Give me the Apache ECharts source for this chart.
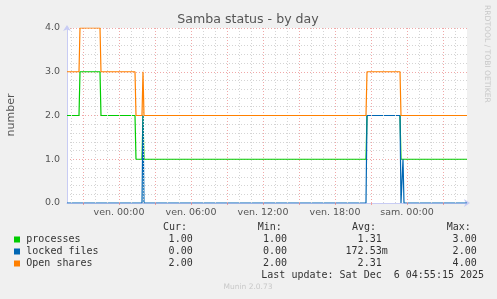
<!DOCTYPE html>
<html><head><meta charset="utf-8">
<script src="https://cdn.jsdelivr.net/npm/echarts@6/dist/echarts.min.js"></script>
<style>html,body{margin:0;padding:0;background:#f0f0f0}#c{width:497px;height:299px}</style>
</head><body><div id="c"></div>
<script>
// time in hours relative to Fri 00:00 (5-minute samples)
const xMin = -4.333, xMax = 29.0;
const tickHours = [0, 6, 12, 18, 24];
const tickLabels = ['ven. 00:00', 'ven. 06:00', 'ven. 12:00', 'ven. 18:00', 'sam. 00:00'];
const majorGridHours = [-3, 0, 3, 6, 9, 12, 15, 18, 21, 24, 27];
const minorGridHours = [-4, -2, -1, 1, 2, 4, 5, 7, 8, 10, 11, 13, 14, 16, 17, 19, 20, 22, 23, 25, 26, 28];

const processesData = [[-4.333,2],[-3.333,2],[-3.25,3],[-1.583,3],[-1.5,2],[1.333,2],[1.417,1],[1.917,1],[2.0,2],[2.083,1],[20.583,1],[20.667,2],[23.417,2],[23.5,1],[29.0,1]];
const lockedData = [[-4.333,0],[1.917,0],[2.0,2],[2.083,0],[20.583,0],[20.667,2],[23.417,2],[23.5,0],[23.583,0],[23.667,1],[23.75,0],[29.0,0]];
const sharesData = [[-4.333,3],[-3.333,3],[-3.25,4],[-1.583,4],[-1.5,3],[1.333,3],[1.417,2],[1.917,2],[2.0,3],[2.083,2],[20.583,2],[20.667,3],[23.417,3],[23.5,2],[29.0,2]];

const seriesNames = ['processes', 'locked files', 'Open shares'];
const curVals = ['1.00', '0.00', '2.00'];
const minVals = ['1.00', '0.00', '2.00'];
const avgVals = ['1.31', '172.53m', '2.31'];
const maxVals = ['3.00', '2.00', '4.00'];
const headers = ['Cur:', 'Min:', 'Avg:', 'Max:'];
const lastUpdate = 'Last update: Sat Dec  6 04:55:15 2025';
const titleText = 'Samba status - by day';
const yName = 'number';
const sideText = 'RRDTOOL / TOBI OETIKER';
const footerText = 'Munin 2.0.73';

const colors = ['#00cc00', '#0066b3', '#ff8000'];
const mono = 'DejaVu Sans Mono';
const sans = 'DejaVu Sans';

const chart = echarts.init(document.getElementById('c'), null, {renderer: 'canvas'});

const graphic = [];
graphic.push({type:'text', x:248, y:20, style:{text:titleText, font:'12.6px "'+sans+'"', fill:'#555', align:'center', verticalAlign:'middle'}});
graphic.push({type:'text', x:11, y:115, rotation:Math.PI/2, style:{text:yName, font:'11px "'+sans+'"', fill:'#555', align:'center', verticalAlign:'middle'}});
graphic.push({type:'text', x:487, y:5, rotation:-Math.PI/2, style:{text:sideText, font:'7.6px "'+sans+'"', fill:'#c8c8c8', align:'left', verticalAlign:'middle'}});
graphic.push({type:'text', x:248, y:287.5, style:{text:footerText, font:'7.5px "'+sans+'"', fill:'#c8c8c8', align:'center', verticalAlign:'middle'}});
const headerX = [163, 257.7, 352, 446.7];
headers.forEach((h, i) => graphic.push({type:'text', x:headerX[i], y:227.5, style:{text:h, font:'10px "'+mono+'"', fill:'#333', align:'left', verticalAlign:'middle'}}));
const rowY = [239.5, 251.5, 263.5];
seriesNames.forEach((n, i) => {
  graphic.push({type:'rect', shape:{x:14, y:rowY[i]-3, width:6, height:6}, style:{fill:colors[i]}});
  graphic.push({type:'text', x:26.3, y:rowY[i], style:{text:n, font:'10px "'+mono+'"', fill:'#333', align:'left', verticalAlign:'middle'}});
  graphic.push({type:'text', x:192.7, y:rowY[i], style:{text:curVals[i], font:'10px "'+mono+'"', fill:'#333', align:'right', verticalAlign:'middle'}});
  graphic.push({type:'text', x:287, y:rowY[i], style:{text:minVals[i], font:'10px "'+mono+'"', fill:'#333', align:'right', verticalAlign:'middle'}});
  const av = avgVals[i];
  graphic.push({type:'text', x: av.endsWith('m') ? 387.7 : 381.7, y:rowY[i], style:{text:av, font:'10px "'+mono+'"', fill:'#333', align:'right', verticalAlign:'middle'}});
  graphic.push({type:'text', x:476.7, y:rowY[i], style:{text:maxVals[i], font:'10px "'+mono+'"', fill:'#333', align:'right', verticalAlign:'middle'}});
});
graphic.push({type:'text', x:261.3, y:275.7, style:{text:lastUpdate, font:'10px "'+mono+'"', fill:'#333', align:'left', verticalAlign:'middle'}});

const gridLine = (hours, color) => ({
  type:'line', data:[], silent:true, z:1,
  markLine:{silent:true, symbol:['none','none'], animation:false, label:{show:false},
    lineStyle:{color:color, type:[1,2], width:1},
    data: hours.map(h => ({xAxis:h}))}
});

const option = {
  animation:false,
  backgroundColor:'#f0f0f0',
  grid:{left:67, top:28, width:400, height:175, show:true, backgroundColor:'#ffffff', borderWidth:0},
  xAxis:{type:'value', min:xMin, max:xMax,
    axisLine:{show:true, lineStyle:{color:'#c8ccf4', width:1}, symbol:['none','arrow'], symbolSize:[6,6], symbolOffset:[0,3]},
    axisTick:{show:true, customValues:majorGridHours, length:2, lineStyle:{color:'#f0a0a0'}},
    axisLabel:{customValues:tickHours, formatter:v => { const k = tickHours.indexOf(v); return k >= 0 ? tickLabels[k] : ''; },
      color:'#555', fontFamily:sans, fontSize:9.5, margin:5},
    splitLine:{show:false}},
  yAxis:{type:'value', min:0, max:4, interval:1,
    axisLine:{show:true, onZero:false, lineStyle:{color:'#c8ccf4', width:1}, symbol:['none','arrow'], symbolSize:[6,6], symbolOffset:[0,3]},
    axisTick:{show:false},
    axisLabel:{formatter:v => v.toFixed(1), color:'#555', fontFamily:sans, fontSize:9.5, margin:7},
    splitLine:{show:true, lineStyle:{color:'#f0a8a8', type:[1,2], width:1}},
    minorTick:{show:false, splitNumber:5},
    minorSplitLine:{show:true, lineStyle:{color:'#d4d4d4', type:[1,2], width:1}}},
  graphic: graphic,
  series:[
    gridLine(minorGridHours, '#d4d4d4'),
    gridLine(majorGridHours, '#f0a8a8'),
    {name:seriesNames[0], type:'line', data:processesData, showSymbol:false, z:3, lineStyle:{color:colors[0], width:1.2}, itemStyle:{color:colors[0]}},
    {name:seriesNames[1], type:'line', data:lockedData, showSymbol:false, z:4, lineStyle:{color:colors[1], width:1.2}, itemStyle:{color:colors[1]}},
    {name:seriesNames[2], type:'line', data:sharesData, showSymbol:false, z:5, lineStyle:{color:colors[2], width:1.2}, itemStyle:{color:colors[2]}}
  ]
};
chart.setOption(option);
</script>
</body></html>
